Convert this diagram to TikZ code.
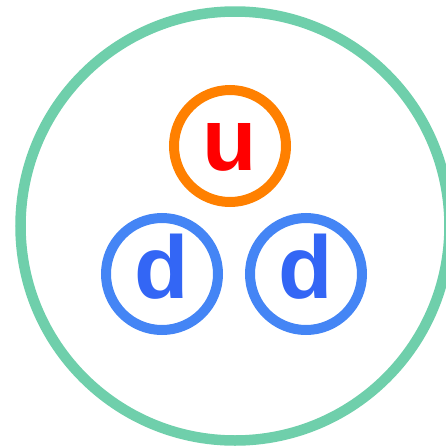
\documentclass[tikz,border=0pt]{standalone}
\usepackage{fontspec}
\setmainfont{Liberation Sans}
\definecolor{hadroncol}{HTML}{6FCFAB}
\definecolor{upring}{HTML}{FF8000}
\definecolor{uptext}{HTML}{FF0000}
\definecolor{downring}{HTML}{4485F5}
\definecolor{downtext}{HTML}{3366F5}
\begin{document}
\begin{tikzpicture}[
    x=1pt, y=-1pt,
    hadron/.style={circle, draw=hadroncol, line width=10.5pt,
      inner sep=0pt, minimum size=429pt},
    quark/.style={circle, line width=10pt, inner sep=0pt, minimum size=112pt,
      text height=49pt, text depth=0pt,
      font=\bfseries\fontsize{89}{89}\selectfont}]
  % frame
  \useasboundingbox (0,0) rectangle (446,448);
  \clip (0,0) rectangle (446,448);
  % the hadron
  \node[hadron] (n) at (235,226) {};
  % the quarks
  \node[quark, draw=upring, text=uptext]     (u)  at (230,146) {u};
  \node[quark, draw=downring, text=downtext] (d1) at (162,274) {d};
  \node[quark, draw=downring, text=downtext] (d2) at (306,274) {d};
\end{tikzpicture}
\end{document}
